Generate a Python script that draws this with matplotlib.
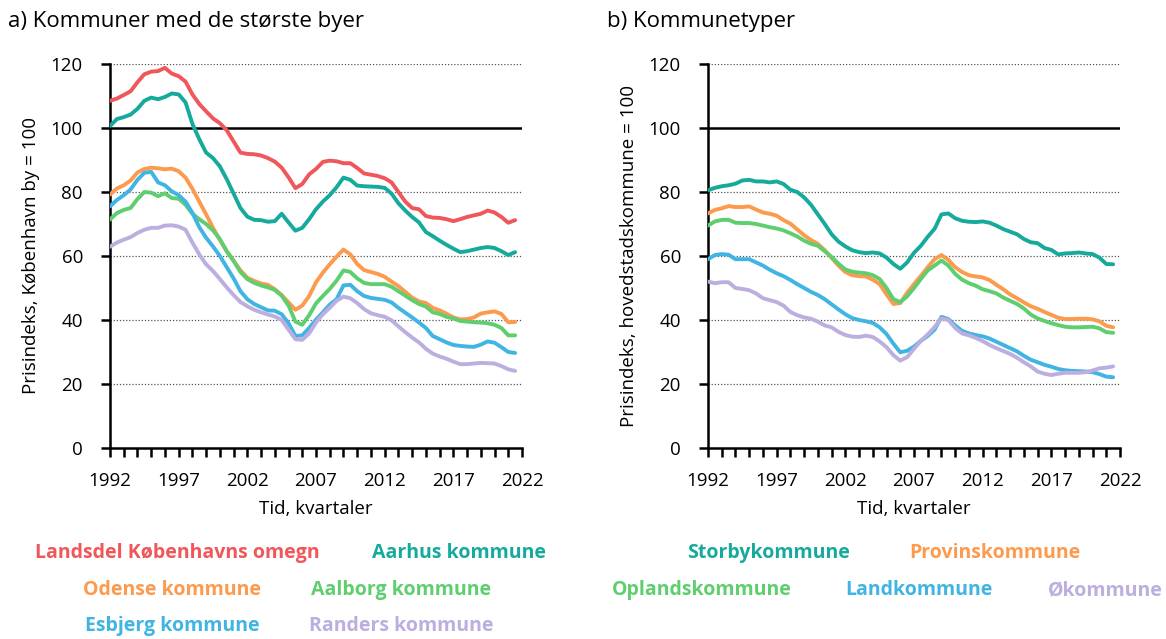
import numpy as np
import matplotlib
matplotlib.use('Agg')
import matplotlib.pyplot as plt

plt.rcParams['font.family'] = ['Open Sans', 'DejaVu Sans']

# half-yearly observations, 1992 H1 .. 2021 H2
periods = np.arange(1992, 2022, 0.5)

# a) Kommuner med de stoerste byer (Koebenhavn by = 100)
kbh_omegn = [108.5, 109.2, 110.3, 111.5, 114.3, 116.8, 117.6, 117.8, 118.8, 117.0,
             116.2, 114.5, 110.5, 107.5, 105.2, 103.0, 101.5, 99.3, 95.8, 92.3,
             91.9, 91.8, 91.4, 90.6, 89.5, 87.6, 84.6, 81.2, 82.5, 85.5,
             87.2, 89.4, 89.8, 89.6, 89.0, 89.0, 87.5, 85.8, 85.4, 85.0,
             84.3, 83.0, 80.0, 77.0, 75.0, 74.6, 72.5, 72.0, 71.9, 71.5,
             70.9, 71.5, 72.2, 72.7, 73.2, 74.2, 73.6, 72.2, 70.4, 71.2]
aarhus = [100.6, 102.8, 103.4, 104.2, 106.0, 108.5, 109.5, 109.0, 109.7, 110.8,
          110.5, 108.0, 101.3, 96.5, 92.3, 90.6, 88.0, 84.0, 79.5, 75.0,
          72.3, 71.3, 71.2, 70.7, 70.9, 73.2, 70.5, 67.9, 68.8, 71.5,
          74.6, 77.0, 79.0, 81.5, 84.5, 83.8, 82.0, 81.8, 81.7, 81.6,
          81.3, 79.5, 76.5, 74.2, 72.2, 70.5, 67.5, 66.2, 64.8, 63.5,
          62.3, 61.2, 61.5, 62.0, 62.5, 62.8, 62.5, 61.5, 60.3, 61.2]
odense = [79.2, 81.1, 82.1, 83.6, 86.1, 87.2, 87.6, 87.4, 87.1, 87.3,
          86.5, 84.5, 81.0, 77.0, 73.0, 68.8, 65.0, 61.5, 58.5, 55.5,
          53.2, 52.2, 51.4, 51.0, 49.6, 47.8, 45.5, 43.2, 44.5, 47.5,
          51.8, 54.8, 57.4, 59.8, 62.0, 60.5, 57.5, 55.6, 55.0, 54.4,
          53.5, 52.0, 50.6, 48.8, 47.0, 45.8, 45.3, 43.8, 43.0, 42.0,
          40.8, 40.2, 40.3, 40.8, 42.0, 42.4, 42.7, 41.9, 39.3, 39.4]
aalborg = [71.4, 73.4, 74.4, 75.0, 77.8, 80.0, 79.8, 78.7, 79.6, 78.1,
           77.9, 76.0, 73.2, 71.5, 70.0, 68.0, 65.3, 61.5, 58.5, 55.0,
           52.8, 51.6, 50.8, 50.2, 49.4, 47.6, 44.5, 39.5, 38.5, 41.5,
           45.2, 47.5, 49.7, 52.3, 55.5, 55.0, 53.0, 51.6, 51.2, 51.2,
           51.2, 50.4, 49.0, 47.6, 46.2, 45.0, 44.2, 42.4, 41.9, 41.0,
           40.5, 39.7, 39.5, 39.3, 39.2, 39.0, 38.5, 37.5, 35.2, 35.2]
esbjerg = [75.5, 77.5, 79.0, 80.8, 83.8, 86.0, 86.3, 83.0, 82.1, 80.2,
           79.0, 77.0, 73.5, 69.0, 65.7, 63.0, 60.0, 56.5, 53.0, 49.0,
           46.5, 45.0, 44.0, 43.0, 42.9, 41.8, 39.0, 35.0, 35.2, 37.5,
           40.1, 42.4, 44.8, 46.5, 50.8, 51.0, 49.0, 47.5, 46.9, 46.6,
           46.3, 45.5, 43.8, 42.3, 40.8, 39.2, 37.5, 35.0, 34.0, 33.0,
           32.2, 31.9, 31.7, 31.6, 32.3, 33.3, 32.9, 31.5, 30.0, 29.7]
randers = [62.9, 64.2, 65.1, 65.9, 67.2, 68.2, 68.8, 68.8, 69.5, 69.6,
           69.2, 68.2, 64.2, 60.5, 57.4, 55.3, 52.8, 50.2, 47.8, 45.6,
           44.3, 43.2, 42.4, 41.7, 41.1, 40.0, 37.0, 34.0, 33.8, 35.8,
           39.2, 41.8, 43.8, 46.0, 47.3, 46.8, 45.3, 43.4, 42.1, 41.5,
           41.0, 39.9, 38.0, 36.2, 34.5, 33.0, 31.0, 29.5, 28.6, 27.9,
           27.0, 26.2, 26.2, 26.4, 26.6, 26.5, 26.4, 25.6, 24.6, 24.1]

# b) Kommunetyper (hovedstadskommune = 100)
storby = [80.5, 81.3, 81.8, 82.1, 82.6, 83.6, 83.8, 83.3, 83.3, 83.0,
          83.3, 82.5, 80.7, 80.0, 78.3, 76.0, 73.0, 70.0, 66.8, 64.5,
          63.0, 61.8, 61.2, 60.9, 61.1, 60.8, 59.5, 57.5, 56.0, 58.0,
          61.0, 63.2, 66.0, 68.5, 73.0, 73.3, 71.8, 71.0, 70.7, 70.6,
          70.8, 70.4, 69.5, 68.4, 67.6, 66.8, 65.3, 64.3, 64.0, 62.5,
          61.9, 60.5, 60.8, 60.9, 61.1, 60.8, 60.6, 59.5, 57.5, 57.4]
provins = [73.3, 74.4, 74.9, 75.6, 75.3, 75.3, 75.5, 74.5, 73.6, 73.2,
           72.6, 71.2, 70.1, 68.3, 66.5, 65.0, 63.8, 61.8, 59.4, 57.0,
           55.0, 54.0, 53.7, 53.6, 52.6, 51.2, 48.0, 45.0, 45.3, 48.5,
           51.2, 53.8, 56.5, 59.0, 60.3, 58.8, 56.5, 55.0, 54.0, 53.6,
           53.3, 52.5, 51.0, 49.6, 48.0, 46.8, 45.5, 44.3, 43.5, 42.5,
           41.6, 40.7, 40.3, 40.3, 40.4, 40.4, 40.2, 39.6, 38.2, 37.7]
opland = [69.5, 70.8, 71.3, 71.3, 70.4, 70.3, 70.3, 70.0, 69.5, 69.0,
          68.6, 68.0, 67.1, 66.1, 64.8, 63.8, 63.2, 61.5, 59.7, 57.6,
          55.8, 55.1, 54.8, 54.6, 54.0, 52.8, 50.0, 46.5, 45.6, 47.4,
          50.0, 52.8, 55.5, 57.0, 58.6, 57.0, 54.4, 52.6, 51.5, 50.7,
          49.6, 49.0, 48.3, 47.0, 46.0, 45.0, 43.6, 41.7, 40.5, 39.7,
          39.0, 38.4, 37.9, 37.7, 37.7, 37.8, 37.9, 37.4, 36.2, 36.0]
land = [59.0, 60.3, 60.6, 60.4, 59.0, 59.0, 59.0, 58.0, 57.0, 55.7,
        54.6, 53.7, 52.5, 51.2, 50.0, 48.8, 47.8, 46.5, 44.9, 43.3,
        41.8, 40.6, 40.0, 39.6, 39.1, 37.7, 35.6, 32.6, 29.9, 30.4,
        31.7, 33.5, 35.0, 37.0, 41.0, 40.3, 38.3, 36.6, 35.8, 35.3,
        34.9, 34.2, 33.2, 32.2, 31.2, 30.2, 28.8, 27.6, 26.8, 26.0,
        25.4, 24.7, 24.3, 24.1, 24.0, 23.9, 23.7, 23.1, 22.3, 22.1]
oe = [52.0, 51.5, 51.8, 51.8, 50.0, 49.7, 49.3, 48.3, 46.8, 46.2,
      45.6, 44.5, 42.5, 41.5, 40.8, 40.4, 39.5, 38.3, 37.7, 36.3,
      35.3, 34.8, 34.7, 35.1, 34.7, 33.3, 31.5, 29.0, 27.3, 28.4,
      31.0, 33.5, 35.5, 37.8, 40.5, 40.0, 37.5, 35.8, 35.2, 34.4,
      33.4, 32.2, 31.2, 30.3, 29.4, 28.2, 26.8, 25.5, 23.9, 23.2,
      22.8, 23.2, 23.5, 23.5, 23.5, 23.7, 24.2, 24.9, 25.1, 25.5]

RED = '#F0575A'
TEAL = '#16AA9C'
ORANGE = '#FC9A4E'
GREEN = '#5ECE6E'
BLUE = '#40B4E3'
PURPLE = '#BCAEDF'

left_series = [(kbh_omegn, RED), (aarhus, TEAL), (odense, ORANGE),
               (aalborg, GREEN), (esbjerg, BLUE), (randers, PURPLE)]
right_series = [(storby, TEAL), (provins, ORANGE), (opland, GREEN),
                (land, BLUE), (oe, PURPLE)]

W, H = 1166, 639
fig = plt.figure(figsize=(W / 100, H / 100), dpi=100)


def px_axes(x0, x1, ytop, ybot):
    return fig.add_axes([x0 / W, 1 - ybot / H, (x1 - x0) / W, (ybot - ytop) / H])


def style_axes(ax, series):
    for vals, col in series:
        ax.plot(periods, vals, color=col, lw=2.8, solid_capstyle='round', zorder=3)
    ax.set_xlim(1992, 2022)
    ax.set_ylim(0, 120)
    for y in [20, 40, 60, 80, 120]:
        ax.axhline(y, color='#555555', lw=0.9, ls=(0, (1, 1.5)), zorder=1)
    ax.axhline(100, color='black', lw=1.8, zorder=2)
    for s in ['top', 'right']:
        ax.spines[s].set_visible(False)
    ax.spines['left'].set_linewidth(1.8)
    ax.spines['bottom'].set_linewidth(1.8)
    ax.set_yticks(range(0, 121, 20))
    ax.set_xticks(range(1992, 2023))
    ax.set_xticklabels([str(y) if (y - 1992) % 5 == 0 else '' for y in range(1992, 2023)])
    ax.tick_params(axis='both', direction='out', length=6.5, width=1.8,
                   labelsize=13.5)
    ax.tick_params(axis='x', pad=11)
    ax.tick_params(axis='y', pad=13)
    ax.set_xlabel('Tid, kvartaler', fontsize=13.5, labelpad=7)


ax1 = px_axes(110, 522, 64, 448)
style_axes(ax1, left_series)
ax1.set_ylabel('Prisindeks, København by = 100', fontsize=13.5)
ax1.yaxis.set_label_coords((40 - 110) / 412, 0.5)

ax2 = px_axes(708, 1120, 64, 448)
style_axes(ax2, right_series)
ax2.set_ylabel('Prisindeks, hovedstadskommune = 100', fontsize=13.5)
ax2.yaxis.set_label_coords((638 - 708) / 412, 0.5)

fig.text(8 / W, 1 - 22 / H, 'a) Kommuner med de største byer', fontsize=16,
         ha='left', va='center')
fig.text(607 / W, 1 - 22 / H, 'b) Kommunetyper', fontsize=16,
         ha='left', va='center')

# legend entries as coloured text
leg = [('Landsdel Københavns omegn', RED, 177, 553),
       ('Aarhus kommune', TEAL, 459, 553),
       ('Odense kommune', ORANGE, 172, 590),
       ('Aalborg kommune', GREEN, 401, 590),
       ('Esbjerg kommune', BLUE, 172, 626),
       ('Randers kommune', PURPLE, 401, 626),
       ('Storbykommune', TEAL, 769, 553),
       ('Provinskommune', ORANGE, 995, 553),
       ('Oplandskommune', GREEN, 702, 590),
       ('Landkommune', BLUE, 919, 590),
       ('Økommune', PURPLE, 1105, 590)]
for txt, col, x, y in leg:
    fig.text(x / W, 1 - y / H, txt, color=col, fontsize=14, fontweight='bold',
             ha='center', va='center')

fig.savefig('out.png', dpi=100)
